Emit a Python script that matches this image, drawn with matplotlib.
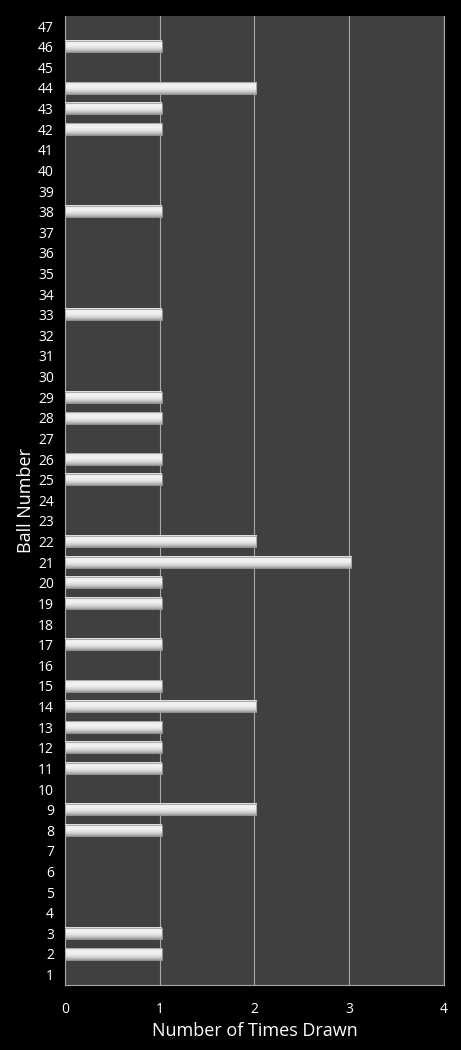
import numpy as np
import matplotlib
matplotlib.use("Agg")
import matplotlib.pyplot as plt

balls = list(range(1, 48))
drawn = {2: 1, 3: 1, 8: 1, 9: 2, 11: 1, 12: 1, 13: 1, 14: 2, 15: 1, 17: 1,
         19: 1, 20: 1, 21: 3, 22: 2, 25: 1, 26: 1, 28: 1, 29: 1, 33: 1,
         38: 1, 42: 1, 43: 1, 44: 2, 46: 1}
counts = [drawn.get(b, 0) for b in balls]
xticks = [0, 1, 2, 3, 4]

plt.rcParams['font.family'] = ['Open Sans', 'DejaVu Sans']

fig = plt.figure(figsize=(4.61, 10.5), dpi=100, facecolor='black')
ax = fig.add_axes([0.141, 0.062, 0.822, 0.923])
ax.set_facecolor('#404040')

# glossy vertical gradient (top row first in imshow -> bottom of bar is darker)
t = np.linspace(0, 1, 40)
grad = (0.97 - 0.35 * t ** 3 - 0.12 * (1 - t) ** 6)[::-1][:, None]
grad = grad[::-1]
h = 0.55
for b, c in zip(balls, counts):
    if c == 0:
        continue
    ax.imshow(grad, cmap='gray', vmin=0, vmax=1, aspect='auto', origin='upper',
              extent=(0, c + 0.02, b - h / 2, b + h / 2), zorder=3, interpolation='bilinear')
    ax.barh(b, c + 0.02, height=h, facecolor='none', edgecolor='#a0a0a0', linewidth=0.6, zorder=4)

ax.set_xlim(0, 4)
ax.set_ylim(0.5, 47.5)
ax.set_xticks(xticks)
ax.set_yticks(balls)
ax.xaxis.grid(True, color='#a8a8a8', linewidth=0.8, zorder=1)
ax.set_axisbelow(True)
ax.tick_params(colors='white', length=0, labelsize=10, pad=8)
ax.tick_params(axis='x', pad=12)
for side in ['left', 'bottom', 'right']:
    ax.spines[side].set_color('#a8a8a8')
    ax.spines[side].set_linewidth(0.8)
ax.spines['top'].set_visible(False)

ax.set_xlabel('Number of Times Drawn', color='white', fontsize=13, labelpad=4)
ax.set_ylabel('Ball Number', color='white', fontsize=13, labelpad=2)

fig.savefig('out.png', dpi=100, facecolor='black')
